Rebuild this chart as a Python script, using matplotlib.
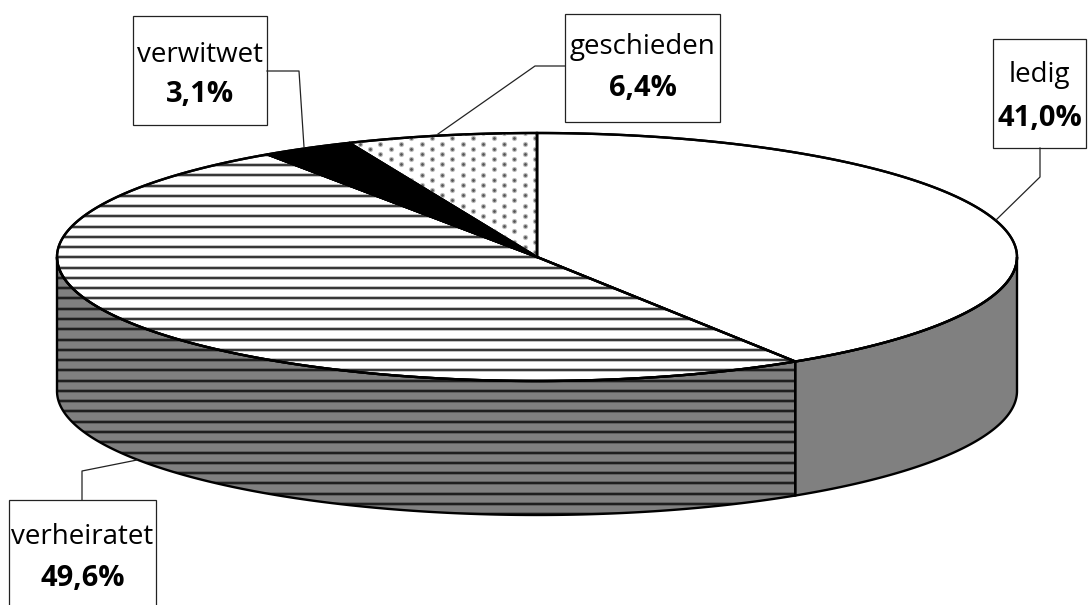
import numpy as np
import matplotlib.pyplot as plt
from matplotlib.patches import Polygon, Rectangle

plt.rcParams['font.family'] = ['Open Sans', 'DejaVu Sans']

labels = ['ledig', 'verheiratet', 'verwitwet', 'geschieden']
values = [41.0, 49.6, 3.1, 6.4]
value_text = ['41,0%', '49,6%', '3,1%', '6,4%']

# Geometrie der Torte in Pixeln
cx, cy = 537, 257
rx, ry = 480, 124
depth = 134

# Beschriftungskaesten: x0, y0, x1, y1
boxes = [(993, 39, 1086, 148), (9, 500, 156, 620), (133, 16, 267, 125), (565, 14, 720, 122)]
name_y = [75, 537, 55, 47]
value_y = [118, 579, 95, 89]
leaders = [
    [(1040, 148), (1040, 177), (996, 220)],
    [(82, 500), (82, 471), (137, 460)],
    [(267, 71), (299, 71), (304, 147)],
    [(565, 66), (535, 66), (438, 134)],
]


def rim(a, b, n=200):
    t = np.radians(np.linspace(a, b, n))
    return cx + rx * np.sin(t), cy - ry * np.cos(t)


def hatch_lines(ax, patch, y0, y1, color='#202020'):
    for y in np.arange(y0, y1, 10.27):
        halo, = ax.plot([0, 1090], [y, y], color='black', alpha=0.3, lw=2.6, zorder=3, solid_capstyle='butt')
        halo.set_clip_path(patch)
        ln, = ax.plot([0, 1090], [y, y], color=color, lw=1.2, zorder=3, solid_capstyle='butt')
        ln.set_clip_path(patch)


fig = plt.figure(figsize=(10.9, 6.05), dpi=100)
ax = fig.add_axes([0, 0, 1, 1])
ax.set_xlim(0, 1090)
ax.set_ylim(605, 0)
ax.axis('off')

edges = np.concatenate([[0], np.cumsum(values)]) / sum(values) * 360
edge_lw = 1.7

# Seitenwand: nur der sichtbare vordere Teil (90 bis 270 Grad)
split = edges[1]
for a, b, striped in [(90, split, False), (split, 270, True)]:
    x, y = rim(a, b)
    pts = np.column_stack([np.r_[x, x[::-1]], np.r_[y, y[::-1] + depth]])
    side = Polygon(pts, closed=True, fc='#808080', ec='none', zorder=2)
    ax.add_patch(side)
    if striped:
        hatch_lines(ax, side, 154.7, 520, color='#141414')
    ax.add_patch(Polygon(pts, closed=True, fc='none', ec='black', lw=edge_lw, zorder=4))

# Deckflaechen
fills = ['white', 'white', 'black', 'white']
for i in range(len(values)):
    x, y = rim(edges[i], edges[i + 1])
    pts = np.column_stack([np.r_[cx, x], np.r_[cy, y]])
    wedge = Polygon(pts, closed=True, fc=fills[i], ec='black', lw=edge_lw, zorder=2.5, joinstyle='round')
    ax.add_patch(wedge)
    if labels[i] == 'verheiratet':
        hatch_lines(ax, wedge, 154.7, 400)
    if labels[i] == 'geschieden':
        for k, yy in enumerate(np.arange(128, 262, 5.17)):
            xs = np.arange(370 + (k % 2) * 10.3 - 20.6 * 2, 560, 20.6)
            halo = ax.scatter(xs, np.full_like(xs, yy), s=14, color='#bbbbbb', lw=0, zorder=3)
            halo.set_clip_path(wedge)
            dots = ax.scatter(xs, np.full_like(xs, yy), s=4, color='#555555', lw=0, zorder=3)
            dots.set_clip_path(wedge)
    ax.add_patch(Polygon(pts, closed=True, fc='none', ec='black', lw=edge_lw, zorder=5))

# Kaesten, Fuehrungslinien und Texte
for i in range(len(labels)):
    x0, y0, x1, y1 = boxes[i]
    ax.add_patch(Rectangle((x0, y0), x1 - x0, y1 - y0, fc='white', ec='#222222', lw=0.9, zorder=6))
    lx, ly = zip(*leaders[i])
    ax.plot(lx, ly, color='#222222', lw=0.9, zorder=6)
    xm = (x0 + x1) / 2
    ax.text(xm, name_y[i], labels[i], fontsize=20, ha='center', va='center', color='black', zorder=7)
    ax.text(xm, value_y[i], value_text[i], fontsize=21, fontweight='bold', ha='center', va='center',
            color='black', zorder=7)

fig.savefig('out.png', dpi=100, facecolor='white')
